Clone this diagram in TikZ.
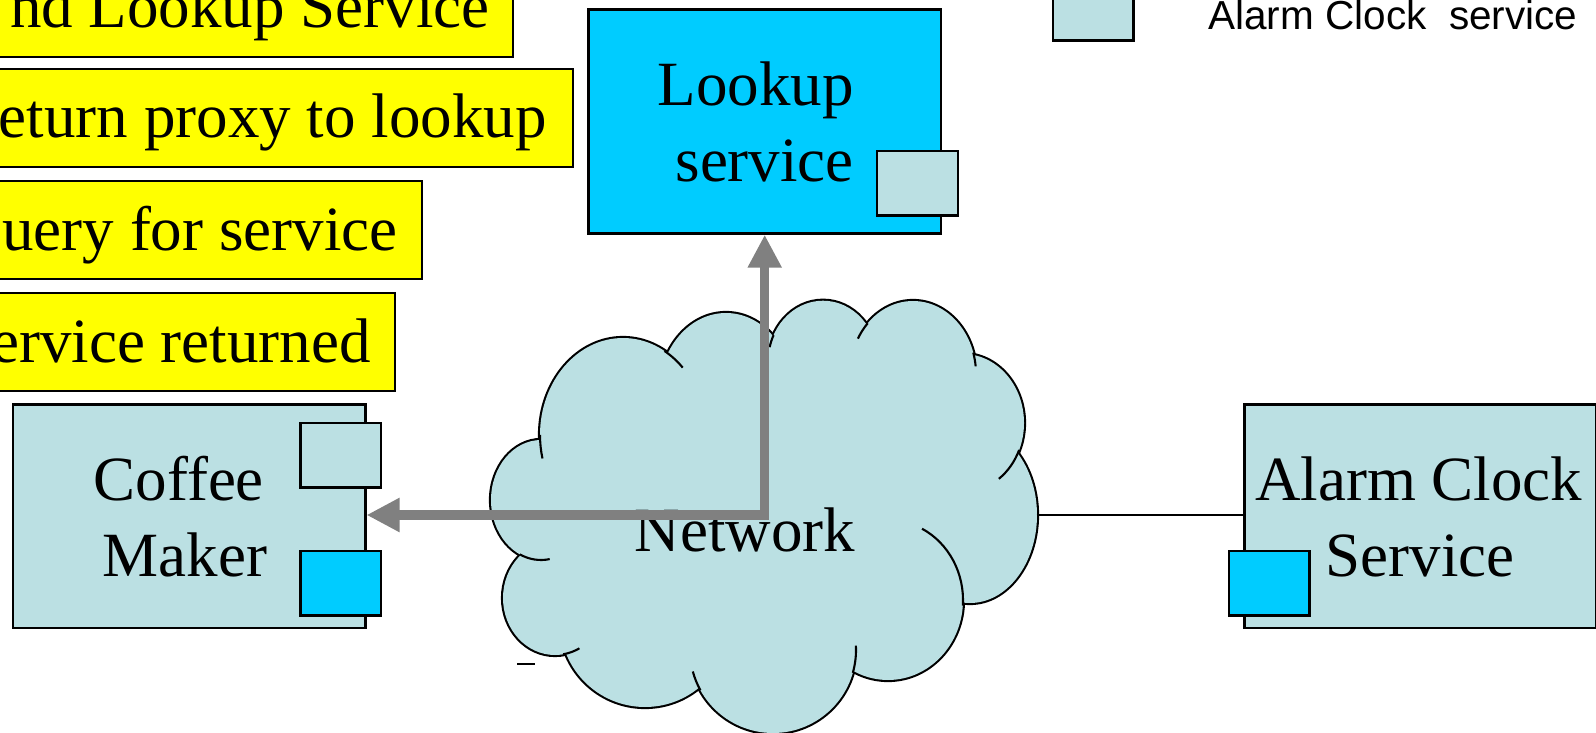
\documentclass[tikz,border=0pt]{standalone}
\usepackage{fontspec}
\setmainfont{Liberation Serif}
\newfontfamily\legendfont{Liberation Sans}
\usetikzlibrary{arrows.meta}
\definecolor{paleblue}{RGB}{187,224,227}
\definecolor{brightcyan}{RGB}{0,204,255}
\definecolor{noteyellow}{RGB}{255,255,0}
\definecolor{arrowgray}{RGB}{128,128,128}

% inner end of a cloud puff: arc of the puff ellipse (cx,cy,rx,ry) from angle #5 to #6
\newcommand\cloudtail[6]{\draw[cloudline] ([shift={(#5:#3 and #4)}]#1,#2) arc[start angle=#5, end angle=#6, x radius=#3, y radius=#4];}

\begin{document}
\begin{tikzpicture}[x=0.5pt,y=-0.5pt,
  bigtext/.style={font=\fontsize{31.5}{38}\selectfont, inner sep=0pt},
  notebox/.style={draw=black, line width=1.1pt, fill=noteyellow, minimum height=49pt, inner sep=0pt, anchor=north west},
  devicebox/.style={draw=black, line width=1.2pt, fill=paleblue, minimum width=176.2pt, minimum height=111.8pt, inner sep=0pt, anchor=north west},
  plugbox/.style={draw=black, line width=1.2pt, minimum width=40.3pt, minimum height=32.2pt, inner sep=0pt, anchor=north west},
  cloudline/.style={draw=black, line width=1.05pt},
  flowarrow/.style={draw=arrowgray, line width=4.6pt,
    {Triangle[length=16.5pt,width=16pt]}-{Triangle[length=16.5pt,width=16pt]}},
  wire/.style={draw=black, line width=1pt}
]
\useasboundingbox (0,0) rectangle (1596,733);
\clip (0,0) rectangle (1596,733);

% step notes
\node[notebox, minimum width=261pt] (box1) at (-10,-42) {};
\node[bigtext, anchor=base east] (note1) at (490,28) {nd Lookup Service};
\node[notebox, minimum width=290.75pt] (box2) at (-10,68) {};
\node[bigtext, anchor=base east] (note2) at (547,138) {eturn proxy to lookup};
\node[notebox, minimum width=215.25pt] (box3) at (-10,180) {};
\node[bigtext, anchor=base east] (note3) at (398,250) {uery for service};
\node[notebox, minimum width=201.75pt] (box4) at (-10,292) {};
\node[bigtext, anchor=base east] (note4) at (371,362) {ervice returned};

% legend
\node[plugbox, fill=paleblue] (legendkey) at (1051.5,-25) {};
\node[anchor=base west, inner sep=0pt, font=\legendfont\fontsize{20.25}{24}\selectfont] (legendtext) at (1208,29.5) {Alarm Clock\ \ service};

% lookup service
\node[devicebox, fill=brightcyan, minimum width=176.35pt, minimum height=112pt] (lookup) at (587.3,8.3) {};
\node[bigtext, anchor=base] (lookupA) at (755.7,105) {Lookup};
\node[bigtext, anchor=base] (lookupB) at (764.7,181.7) {service};
\node[plugbox, fill=paleblue] (lookupPort) at (876,150) {};

% network cloud: union of puffs, outline first, then the fill hides the inner half
\def\puffs{541/500/50/60, 623/435/83/97, 726/393/67/80, 823/362/55/61.3,
  913/374/63/73, 963/423/61/69, 970/515/67/88, 888/600/75/80,
  773/650/83/83, 645/622/85/85, 555/598/52/57}
\foreach \cx/\cy/\rx/\ry in \puffs
  \draw[black, line width=2.1pt] (\cx,\cy) ellipse [x radius=\rx, y radius=\ry];
\foreach \cx/\cy/\rx/\ry in \puffs
  \fill[paleblue] (\cx,\cy) ellipse [x radius=\rx, y radius=\ry];
\fill[paleblue] (541,500) -- (623,435) -- (726,393) -- (823,362) -- (913,374)
  -- (963,423) -- (970,515) -- (888,600) -- (773,650) -- (645,622) -- (555,598) -- cycle;
% inner ends of the puffs
\cloudtail{541}{500}{50}{60}{115}{80}
\cloudtail{623}{435}{83}{97}{180}{166}
\cloudtail{623}{435}{83}{97}{300}{316}
\cloudtail{823}{362}{55}{61.3}{206}{194}
\cloudtail{913}{374}{63}{73}{224}{209}
\cloudtail{913}{374}{63}{73}{343}{354}
\cloudtail{963}{423}{61}{69}{23}{54}
\cloudtail{888}{600}{75}{80}{4}{-63}
\cloudtail{773}{650}{83}{83}{16}{-3}
\cloudtail{773}{650}{83}{83}{151}{165}
\cloudtail{555}{598}{52}{57}{81}{62}
\draw[cloudline] (517,664) -- (535,664);
\node[bigtext, anchor=base] (network) at (745.2,551.7) {Network};
\coordinate (cloudeast) at (1036.5,515);

% coffee maker
\node[devicebox] (coffee) at (11.7,403.3) {};
\node[bigtext, anchor=base] (coffeeA) at (178.8,500) {Coffee};
\node[bigtext, anchor=base] (coffeeB) at (185,576.7) {Maker};
\node[plugbox, fill=paleblue] (coffeeUpper) at (299.3,421.7) {};
\node[plugbox, fill=brightcyan] (coffeeLower) at (299.3,550) {};

% alarm clock service
\node[devicebox, minimum width=175.85pt] (alarm) at (1243.3,403.3) {};
\node[bigtext, anchor=base] (alarmA) at (1418.8,500) {Alarm Clock};
\node[bigtext, anchor=base] (alarmB) at (1420,576.7) {Service};
\node[plugbox, fill=brightcyan] (alarmPort) at (1227.7,550) {};

% connections
\draw[wire] (cloudeast) -- (alarm.west |- cloudeast);
\coordinate (bend) at (764.7,515);
\draw[flowarrow] (bend |- lookup.south) -- (bend) -- (coffee.east |- bend);
\end{tikzpicture}
\end{document}
